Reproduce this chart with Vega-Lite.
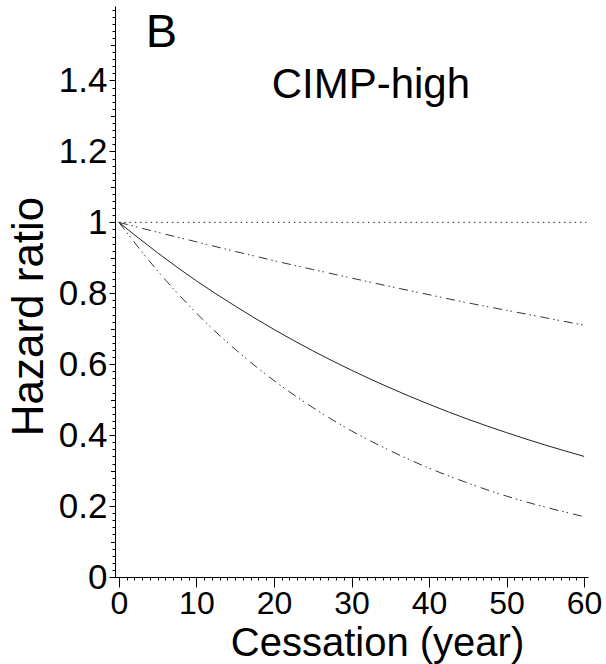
{
  "$schema": "https://vega.github.io/schema/vega-lite/v6.json",
  "width": 473,
  "height": 571,
  "autosize": {"type": "none"},
  "padding": {"left": 115, "top": 6, "right": 18, "bottom": 87},
  "background": "white",
  "config": {
    "view": {"stroke": null},
    "axis": {
      "grid": false,
      "domainColor": "#000",
      "tickColor": "#000",
      "labelColor": "#000",
      "titleColor": "#000",
      "labelFont": "Liberation Sans",
      "titleFont": "Liberation Sans",
      "titleFontWeight": "normal",
      "domainWidth": 1,
      "tickWidth": 1
    }
  },
  "datasets": {
    "ref": [{"t": 0, "hr": 1}, {"t": 60.3, "hr": 1}],
    "mid": [
      {"t": 0, "hr": 1}, {"t": 5, "hr": 0.914}, {"t": 10, "hr": 0.835}, {"t": 15, "hr": 0.764},
      {"t": 20, "hr": 0.698}, {"t": 25, "hr": 0.638}, {"t": 30, "hr": 0.583}, {"t": 35, "hr": 0.533},
      {"t": 40, "hr": 0.487}, {"t": 45, "hr": 0.445}, {"t": 50, "hr": 0.407}, {"t": 55, "hr": 0.372},
      {"t": 60, "hr": 0.34}
    ],
    "upper": [
      {"t": 0, "hr": 1}, {"t": 5, "hr": 0.972}, {"t": 10, "hr": 0.945}, {"t": 15, "hr": 0.918},
      {"t": 20, "hr": 0.892}, {"t": 25, "hr": 0.867}, {"t": 30, "hr": 0.843}, {"t": 35, "hr": 0.819},
      {"t": 40, "hr": 0.796}, {"t": 45, "hr": 0.773}, {"t": 50, "hr": 0.752}, {"t": 55, "hr": 0.731},
      {"t": 60, "hr": 0.71}
    ],
    "lower": [
      {"t": 0, "hr": 1}, {"t": 5, "hr": 0.863}, {"t": 10, "hr": 0.744}, {"t": 15, "hr": 0.642},
      {"t": 20, "hr": 0.554}, {"t": 25, "hr": 0.478}, {"t": 30, "hr": 0.412}, {"t": 35, "hr": 0.356},
      {"t": 40, "hr": 0.307}, {"t": 45, "hr": 0.265}, {"t": 50, "hr": 0.228}, {"t": 55, "hr": 0.197},
      {"t": 60, "hr": 0.17}
    ],
    "labels": [
      {"label": "B", "t": 5.5, "hr": 1.494},
      {"label": "CIMP-high", "t": 32.5, "hr": 1.352}
    ]
  },
  "layer": [
    {
      "data": {"name": "ref"},
      "mark": {"type": "line", "strokeDash": [1.5, 3.8], "color": "#222", "strokeWidth": 1},
      "encoding": {
        "x": {"field": "t", "type": "quantitative", "scale": {"domain": [-0.5, 60.5], "nice": false, "zero": false},
          "axis": {"orient": "bottom", "values": [0, 10, 20, 30, 40, 50, 60], "tickSize": 10, "labelFontSize": 32,
            "labelPadding": 26, "labelBaseline": "alphabetic", "title": "Cessation (year)", "titleFontSize": 40,
            "titleX": 262, "titleY": 78, "titleBaseline": "alphabetic", "titleAlign": "center"}},
        "y": {"field": "hr", "type": "quantitative", "scale": {"domain": [0, 1.61], "nice": false, "zero": false},
          "axis": {"orient": "left", "values": [0, 0.2, 0.4, 0.6, 0.8, 1, 1.2, 1.4], "format": "~g", "tickSize": 6,
            "labelFontSize": 35, "labelPadding": 2, "labelBaseline": "middle", "title": "Hazard ratio",
            "titleFontSize": 44, "titleX": -73, "titleY": 310, "titleAngle": -90, "titleAlign": "center",
            "titleBaseline": "alphabetic"}}
      }
    },
    {
      "data": {"name": "ref"},
      "mark": {"type": "line", "opacity": 0},
      "encoding": {
        "x": {"field": "t", "type": "quantitative", "scale": {"domain": [-0.5, 60.5], "nice": false, "zero": false},
          "axis": {"orient": "bottom", "values": [0,1,2,3,4,5,6,7,8,9,10,11,12,13,14,15,16,17,18,19,20,21,22,23,24,25,26,27,28,29,30,31,32,33,34,35,36,37,38,39,40,41,42,43,44,45,46,47,48,49,50,51,52,53,54,55,56,57,58,59,60],
            "tickSize": 3, "labels": false, "domain": false, "title": null}},
        "y": {"field": "hr", "type": "quantitative", "scale": {"domain": [0, 1.61], "nice": false, "zero": false},
          "axis": {"orient": "left", "values": [0,0.02,0.04,0.06,0.08,0.1,0.12,0.14,0.16,0.18,0.2,0.22,0.24,0.26,0.28,0.3,0.32,0.34,0.36,0.38,0.4,0.42,0.44,0.46,0.48,0.5,0.52,0.54,0.56,0.58,0.6,0.62,0.64,0.66,0.68,0.7,0.72,0.74,0.76,0.78,0.8,0.82,0.84,0.86,0.88,0.9,0.92,0.94,0.96,0.98,1,1.02,1.04,1.06,1.08,1.1,1.12,1.14,1.16,1.18,1.2,1.22,1.24,1.26,1.28,1.3,1.32,1.34,1.36,1.38,1.4,1.42,1.44,1.46,1.48,1.5,1.52,1.54,1.56,1.58,1.6],
            "tickSize": 3, "labels": false, "domain": false, "title": null}}
      }
    },
    {
      "data": {"name": "ref"},
      "mark": {"type": "line", "opacity": 0},
      "encoding": {
        "x": {"field": "t", "type": "quantitative", "scale": {"domain": [-0.5, 60.5], "nice": false, "zero": false}, "axis": null},
        "y": {"field": "hr", "type": "quantitative", "scale": {"domain": [0, 1.61], "nice": false, "zero": false},
          "axis": {"orient": "left", "values": [0.1, 0.3, 0.5, 0.7, 0.9, 1.1, 1.3, 1.5],
            "tickSize": 4.5, "labels": false, "domain": false, "title": null}}
      }
    },
    {
      "data": {"name": "mid"},
      "mark": {"type": "line", "interpolate": "monotone", "color": "#222", "strokeWidth": 1},
      "encoding": {
        "x": {"field": "t", "type": "quantitative", "scale": {"domain": [-0.5, 60.5], "nice": false, "zero": false}, "axis": null},
        "y": {"field": "hr", "type": "quantitative", "scale": {"domain": [0, 1.61], "nice": false, "zero": false}, "axis": null}
      }
    },
    {
      "data": {"name": "upper"},
      "mark": {"type": "line", "interpolate": "monotone", "color": "#333", "strokeWidth": 1, "strokeDash": [9, 4, 1.5, 3, 1.5, 5]},
      "encoding": {
        "x": {"field": "t", "type": "quantitative", "scale": {"domain": [-0.5, 60.5], "nice": false, "zero": false}, "axis": null},
        "y": {"field": "hr", "type": "quantitative", "scale": {"domain": [0, 1.61], "nice": false, "zero": false}, "axis": null}
      }
    },
    {
      "data": {"name": "lower"},
      "mark": {"type": "line", "interpolate": "monotone", "color": "#333", "strokeWidth": 1, "strokeDash": [9, 4, 1.5, 3, 1.5, 5]},
      "encoding": {
        "x": {"field": "t", "type": "quantitative", "scale": {"domain": [-0.5, 60.5], "nice": false, "zero": false}, "axis": null},
        "y": {"field": "hr", "type": "quantitative", "scale": {"domain": [0, 1.61], "nice": false, "zero": false}, "axis": null}
      }
    },
    {
      "data": {"name": "labels"},
      "transform": [{"filter": "datum.label === 'B'"}],
      "mark": {"type": "text", "font": "Liberation Sans", "fontSize": 47, "align": "center", "baseline": "alphabetic", "color": "#000"},
      "encoding": {
        "x": {"field": "t", "type": "quantitative", "scale": {"domain": [-0.5, 60.5], "nice": false, "zero": false}, "axis": null},
        "y": {"field": "hr", "type": "quantitative", "scale": {"domain": [0, 1.61], "nice": false, "zero": false}, "axis": null},
        "text": {"field": "label"}
      }
    },
    {
      "data": {"name": "labels"},
      "transform": [{"filter": "datum.label !== 'B'"}],
      "mark": {"type": "text", "font": "Liberation Sans", "fontSize": 42, "align": "center", "baseline": "alphabetic", "color": "#000"},
      "encoding": {
        "x": {"field": "t", "type": "quantitative", "scale": {"domain": [-0.5, 60.5], "nice": false, "zero": false}, "axis": null},
        "y": {"field": "hr", "type": "quantitative", "scale": {"domain": [0, 1.61], "nice": false, "zero": false}, "axis": null},
        "text": {"field": "label"}
      }
    }
  ],
  "resolve": {"axis": {"x": "independent", "y": "independent"}}
}
